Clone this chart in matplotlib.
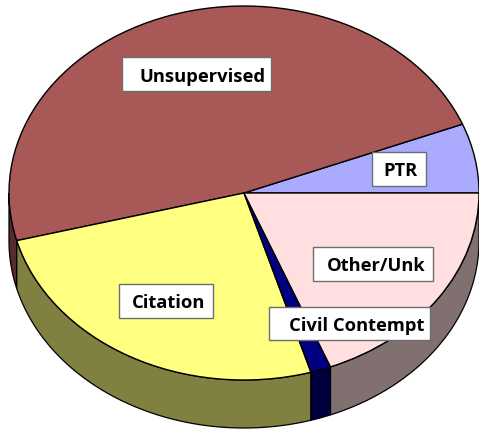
import numpy as np
import matplotlib
matplotlib.use("Agg")
import matplotlib.pyplot as plt

labels = ['PTR', 'Unsupervised', 'Citation', 'Civil Contempt', 'Other/Unk']
values = [6.0, 48.1, 25.5, 1.4, 19.0]
colors = ['#AAAAFF', '#A95858', '#FFFF80', '#000080', '#FFDFDF']
side_colors = ['#55557F', '#542C2C', '#808040', '#000040', '#807070']

# pixel geometry of the ellipse
W, H = 479, 431
cx, cy, rx, ry = 244, 194, 235, 187
depth = 48 / ry

fig = plt.figure(figsize=(W / 100, H / 100), dpi=100)
ax = fig.add_axes([0, 0, 1, 1])

# side wall first, only the front half (180-360 deg) shows
edges = np.cumsum([0] + values) / sum(values) * 360
for i in range(len(values)):
    a0 = max(edges[i], 180)
    a1 = edges[i + 1]
    if a1 <= a0:
        continue
    t = np.radians(np.linspace(a0, a1, 80))
    xs = np.cos(t)
    ys = np.sin(t)
    px = np.concatenate([xs, xs[::-1]])
    py = np.concatenate([ys, ys[::-1] - depth])
    ax.fill(px, py, facecolor=side_colors[i], edgecolor='black', linewidth=0.9, zorder=1)

wedges, _ = ax.pie(values, colors=colors, startangle=0, counterclock=True,
                   wedgeprops={'edgecolor': 'black', 'linewidth': 1.0, 'zorder': 2})

ax.set_aspect('auto')
ax.set_xlim((0 - cx) / rx, (W - cx) / rx)
ax.set_ylim((cy - H) / ry, cy / ry)
ax.axis('off')


def label(txt, left, right, top, bottom, pad):
    # white box with grey border, text pushed to the right side
    x0 = (left - cx) / rx
    x1 = (right - cx) / rx
    y0 = (cy - bottom) / ry
    y1 = (cy - top) / ry
    ax.fill([x0, x1, x1, x0], [y0, y0, y1, y1], facecolor='white',
            edgecolor='#6E6E6E', linewidth=1.0, zorder=5)
    ax.text((right - pad - cx) / rx, (y0 + y1) / 2 - 1.5 / ry, txt, ha='right', va='center',
            fontsize=13.2, fontweight='bold', family='Open Sans', color='black', zorder=6)


label('Unsupervised', 122, 271, 58, 92, 5)
label('PTR', 372, 426, 153, 187, 8)
label('Citation', 119, 213, 285, 319, 8)
label('Other/Unk', 313, 433, 248, 282, 7)
label('Civil Contempt', 269, 430, 308, 341, 6)

fig.savefig('out.png', dpi=100)
